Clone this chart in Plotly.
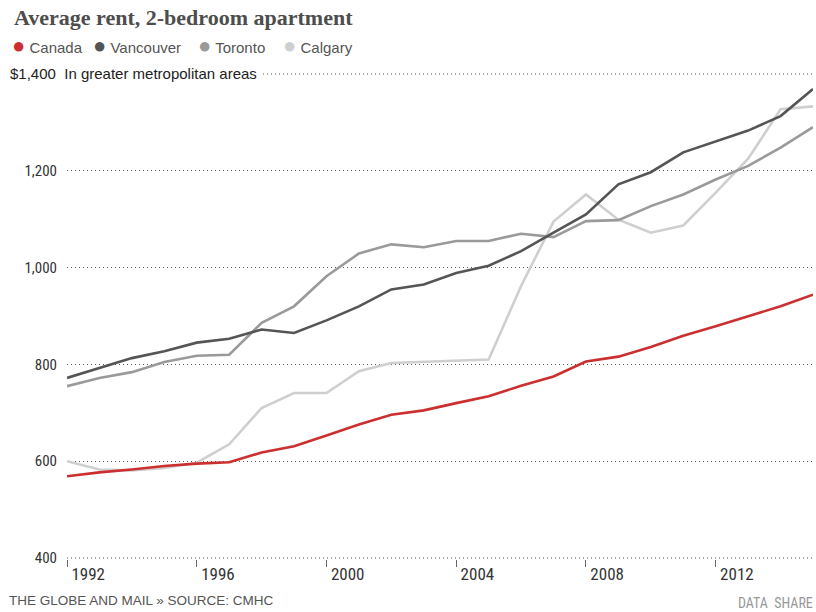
import plotly.graph_objects as go

years = list(range(1992, 2016))
canada = [569, 577, 583, 590, 595, 598, 618, 631, 653, 676, 696, 705, 720, 734, 756, 775, 806, 816, 836, 859, 879, 899, 920, 944]
vancouver = [772, 793, 813, 827, 845, 853, 872, 865, 891, 920, 955, 965, 989, 1004, 1034, 1072, 1110, 1172, 1197, 1238, 1261, 1283, 1313, 1369]
toronto = [755, 772, 784, 805, 818, 820, 886, 920, 982, 1029, 1048, 1042, 1055, 1055, 1070, 1063, 1096, 1098, 1127, 1151, 1182, 1210, 1248, 1290]
calgary = [600, 583, 581, 586, 597, 635, 710, 741, 741, 786, 803, 805, 807, 810, 962, 1095, 1151, 1099, 1072, 1087, 1155, 1225, 1327, 1333]

series_names = ["Canada", "Vancouver", "Toronto", "Calgary"]
series_values = [canada, vancouver, toronto, calgary]
colors = ["#cc2f2f", "#555555", "#9a9a9a", "#cfcfcf"]

x_tickvals = [1992, 1996, 2000, 2004, 2008, 2012]
x_ticktext = ["1992", "1996", "2000", "2004", "2008", "2012"]
y_tickvals = [400, 600, 800, 1000, 1200, 1400]
y_ticktext = ["400", "600", "800", "1,000", "1,200", ""]
y_edge_lines = [400, 1400]

NARROW = "Liberation Sans Narrow, Roboto Condensed, Liberation Sans, Arial, sans-serif"
SANS = "Liberation Sans, Arial, sans-serif"
GRID = dict(color="#555", width=1, dash="1px,3px")

fig = go.Figure()
# lighter lines first so darker ones sit on top
for i in [3, 2, 1, 0]:
    fig.add_trace(go.Scatter(
        x=years, y=series_values[i], mode="lines", name=series_names[i],
        line=dict(color=colors[i], width=2.6), showlegend=False))

L, R, T, B = 67, 3, 73, 53
fig.update_layout(
    width=816, height=612,
    margin=dict(l=L, r=R, t=T, b=B, pad=0),
    paper_bgcolor="white", plot_bgcolor="white",
    showlegend=False,
    xaxis=dict(range=[1992, 2015], tickvals=x_tickvals,
               ticktext=["&nbsp;" + t for t in x_ticktext],
               showgrid=False, zeroline=False, showline=False,
               ticks="outside", ticklen=7, tickwidth=1, tickcolor="#666",
               ticklabelposition="outside right",
               tickfont=dict(family=NARROW, size=17, color="#333")),
    yaxis=dict(range=[398, 1402], tickvals=y_tickvals, ticktext=y_ticktext,
               showgrid=True, gridcolor=GRID["color"], griddash=GRID["dash"], gridwidth=1,
               zeroline=False, showline=False, ticks="",
               ticklabelstandoff=9,
               tickfont=dict(family=NARROW, size=15, color="#333")),
)

# edge gridlines (plotly drops grid lines at the plot boundary)
for v in y_edge_lines:
    fig.add_shape(type="line", xref="paper", yref="y", x0=0, x1=1, y0=v, y1=v,
                  line=GRID, layer="below")

def px_to_paper(px):
    return (px - L) / (816 - L - R)

def py_to_paper(py):
    return (612 - B - py) / (612 - T - B)

# Title
fig.add_annotation(text="<b>Average rent, 2-bedroom apartment</b>", xref="paper", yref="paper",
                   x=px_to_paper(12), y=py_to_paper(17), xanchor="left", yanchor="middle",
                   showarrow=False, font=dict(family="Liberation Serif, DejaVu Serif, serif", size=22, color="#4d4d4d"))

# Legend
legend_pos = [10, 91, 196, 281]
for name, col, px in zip(series_names, colors, legend_pos):
    fig.add_annotation(text=f"<span style='color:{col};font-size:22px'>●</span> {name}",
                       xref="paper", yref="paper", x=px_to_paper(px), y=py_to_paper(45),
                       xanchor="left", yanchor="middle", showarrow=False,
                       font=dict(family=SANS, size=15, color="#555"))

# $1,400 label covering the start of the top gridline
fig.add_annotation(text="$1,400  In greater metropolitan areas", xref="paper", yref="y",
                   x=px_to_paper(5), y=1400, xanchor="left", yanchor="middle",
                   showarrow=False, bgcolor="white", borderpad=4,
                   font=dict(family=SANS, size=15, color="#222"))

# Footer
fig.add_annotation(text="THE GLOBE AND MAIL » SOURCE: CMHC", xref="paper", yref="paper",
                   x=px_to_paper(7), y=py_to_paper(600), xanchor="left", yanchor="middle",
                   showarrow=False, font=dict(family=SANS, size=13.5, color="#555"))
fig.add_annotation(text="DATA&nbsp;&nbsp;SHARE", xref="paper", yref="paper",
                   x=px_to_paper(815), y=py_to_paper(603), xanchor="right", yanchor="middle",
                   showarrow=False, font=dict(family=NARROW, size=14, color="#999"))

fig.write_html("out.html")
